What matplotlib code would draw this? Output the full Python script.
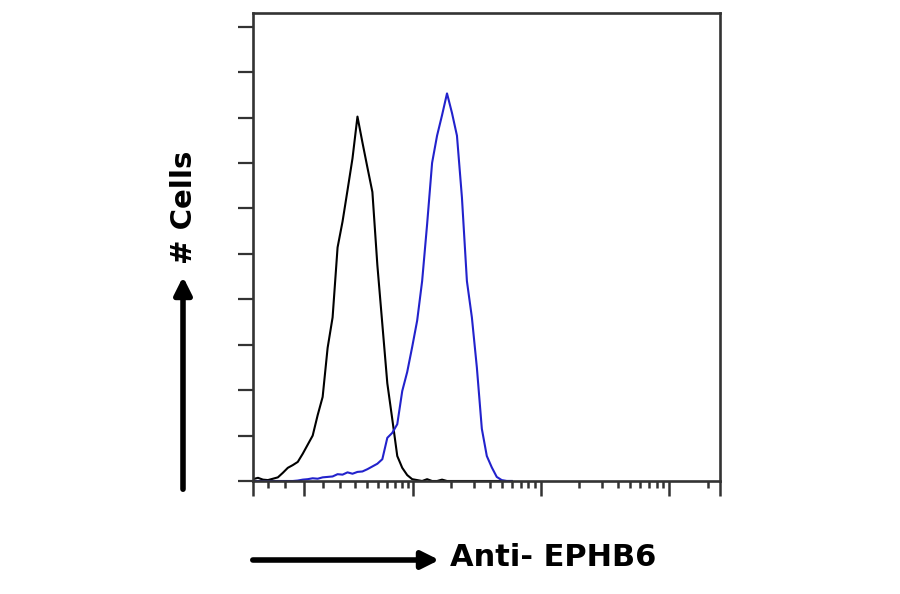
import numpy as np
import matplotlib
matplotlib.use("Agg")
import matplotlib.pyplot as plt

# asinh-style display scale (flow cytometry), width parameter
C = 2.86

# histogram channels: 5 px-wide display bins starting at the left axis limit (-3)
black_counts = [0.4, 0.7, 0.3, 0.2, 0.5, 0.8, 1.8, 2.9, 3.5, 4.2,
                6.0, 8.0, 10.0, 14.5, 18.5, 29.3, 36.0, 51.4, 57.1, 64.0,
                71.0, 80.2, 74.5, 69.0, 63.6, 47.5, 34.5, 21.5, 13.6, 5.5,
                2.9, 1.3, 0.4, 0.2, 0.0, 0.4, 0.0, 0.0, 0.3, 0.0,
                0.0, 0.0, 0.0, 0.0, 0.0, 0.0, 0.0, 0.0, 0.0, 0.0,
                0.0, 0.0, 0.0]
blue_counts = [0.0, 0.0, 0.0, 0.0, 0.0, 0.0, 0.0, 0.0, 0.0, 0.1,
               0.3, 0.4, 0.6, 0.5, 0.8, 0.9, 1.0, 1.5, 1.4, 1.9,
               1.6, 2.0, 2.1, 2.6, 3.2, 3.8, 4.8, 9.5, 10.6, 12.5,
               19.8, 24.0, 29.5, 35.3, 44.0, 56.5, 70.0, 76.0, 80.5, 85.3,
               81.0, 76.0, 62.4, 44.0, 36.0, 25.0, 11.5, 5.5, 3.0, 0.9,
               0.2, 0.0, 0.0]

x_min, x_max = -3, 2500
major_x = [0, 10, 100, 1000]
minor_x = [-3, -2, -1] + [k * d for d in (1, 10, 100) for k in range(2, 10)] + [1, 2000]
y_ticks = list(range(0, 101, 10))


def fwd(x):
    return np.arcsinh(np.asarray(x, dtype=float) / C)


def inv(u):
    return C * np.sinh(u)


# bin centres: equal steps in display units
step = 5 / 56.0
u0 = fwd(x_min)
x_black = inv(u0 + step * np.arange(len(black_counts)))
x_blue = inv(u0 + step * np.arange(len(blue_counts)))

fig = plt.figure(figsize=(9, 5.94), dpi=100)
ax = fig.add_axes([253 / 900, 1 - 481 / 594, 467 / 900, 468 / 594])
ax.set_xscale("function", functions=(fwd, inv))

ax.plot(x_black, black_counts, color="black", lw=1.5)
ax.plot(x_blue, blue_counts, color="#2222cc", lw=1.5)

ax.set_xlim(x_min, x_max)
ax.set_ylim(0, 103)

ax.set_xticks(major_x + [x_min, x_max])
ax.set_xticks(minor_x, minor=True)
ax.set_yticks(y_ticks)
ax.set_yticks([], minor=True)
ax.set_xticklabels([])
ax.set_yticklabels([])
ax.tick_params(axis="x", which="major", length=11, width=1.8, color="#333333", direction="out")
ax.tick_params(axis="x", which="minor", length=5, width=1.8, color="#333333", direction="out")
ax.tick_params(axis="y", which="major", length=11, width=1.6, color="#333333", direction="out")
for s in ax.spines.values():
    s.set_linewidth(1.9)
    s.set_color("#333333")

font = ["DejaVu Sans"]
fig.text(0.5, 1 - 557 / 594, "Anti- EPHB6", fontsize=22, fontweight="bold",
         family=font, ha="left", va="center")
fig.text(184 / 900, 1 - 207 / 594, "# Cells", fontsize=21, fontweight="bold",
         family=font, rotation=90, ha="center", va="center")

arrow = dict(arrowstyle="-|>,head_length=0.8,head_width=0.4", lw=4, color="black")
fig.add_artist(matplotlib.patches.FancyArrowPatch(
    (250 / 900, 1 - 560 / 594), (442 / 900, 1 - 560 / 594),
    transform=fig.transFigure, mutation_scale=13, **arrow))
fig.add_artist(matplotlib.patches.FancyArrowPatch(
    (183 / 900, 1 - 492 / 594), (183 / 900, 1 - 274 / 594),
    transform=fig.transFigure, mutation_scale=13, **arrow))

fig.savefig("out.png", dpi=100)
